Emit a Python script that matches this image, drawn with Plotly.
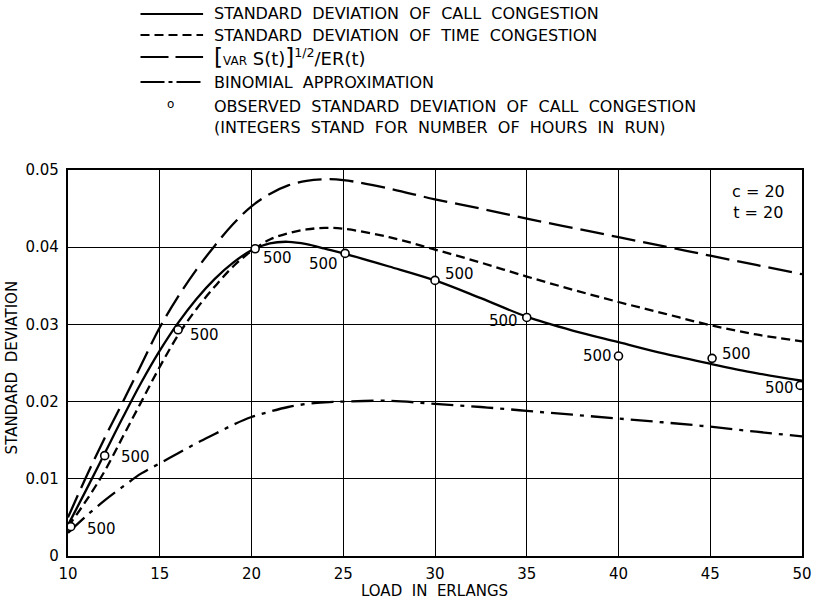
import plotly.graph_objects as go

# ---------------- data ----------------
x_curve = [10, 11, 12, 13, 14, 15, 16, 17, 18, 19, 20, 21, 22, 23, 24, 25,
           27.5, 30, 32.5, 35, 37.5, 40, 42.5, 45, 47.5, 50]
sd_call = [0.0040, 0.0086, 0.0133, 0.0180, 0.0225, 0.0266, 0.0302, 0.0333, 0.0359, 0.0380,
           0.0396, 0.0405, 0.0407, 0.0404, 0.0398, 0.0392,
           0.0375, 0.0357, 0.0334, 0.0310, 0.0292, 0.0277, 0.0262, 0.0249, 0.0237, 0.0227]
sd_time = [0.0038, 0.0072, 0.0110, 0.0155, 0.0200, 0.0245, 0.0286, 0.0320, 0.0349, 0.0375,
           0.0395, 0.0410, 0.0418, 0.0423, 0.0425, 0.0424,
           0.0413, 0.0397, 0.0380, 0.0362, 0.0345, 0.0329, 0.0314, 0.0299, 0.0287, 0.0278]
var_ratio = [0.0050, 0.0103, 0.0153, 0.0200, 0.0248, 0.0296, 0.0336, 0.0371, 0.0402, 0.0430,
             0.0453, 0.0469, 0.0480, 0.0486, 0.0488, 0.0487,
             0.0476, 0.0462, 0.0450, 0.0437, 0.0425, 0.0413, 0.0401, 0.0389, 0.0377, 0.0365]
binomial = [0.0030, 0.0052, 0.0072, 0.0090, 0.0107, 0.0120, 0.0133, 0.0146, 0.0158, 0.0170,
            0.0180, 0.0187, 0.0193, 0.0197, 0.0199, 0.0200,
            0.0201, 0.0197, 0.0193, 0.0188, 0.0183, 0.0178, 0.0173, 0.01675, 0.0161, 0.0155]

obs_x = [10.15, 12.0, 16.0, 20.2, 25.1, 30.0, 35.0, 40.0, 45.1, 49.9]
obs_y = [0.0038, 0.0130, 0.0293, 0.0398, 0.0392, 0.0357, 0.0309, 0.0259, 0.0256, 0.0221]
obs_hours = [500, 500, 500, 500, 500, 500, 500, 500, 500, 500]

x_ticks = [10, 15, 20, 25, 30, 35, 40, 45, 50]
y_ticks = [0, 0.01, 0.02, 0.03, 0.04, 0.05]
y_ticktext = ["0", "0.01", "0.02", "0.03", "0.04", "0.05"]

legend_labels = [
    "STANDARD\u00a0 DEVIATION\u00a0 OF\u00a0 CALL\u00a0 CONGESTION",
    "STANDARD\u00a0 DEVIATION\u00a0 OF\u00a0 TIME\u00a0 CONGESTION",
    "<span style='font-size:23px'>[</span><span style='font-size:12px'>VAR</span> S(t)"
    "<span style='font-size:23px'>]</span><sup>1/2</sup>/ER(t)",
    "BINOMIAL\u00a0 APPROXIMATION",
    "OBSERVED\u00a0 STANDARD\u00a0 DEVIATION\u00a0 OF\u00a0 CALL\u00a0 CONGESTION<br>"
    "(INTEGERS\u00a0 STAND\u00a0 FOR\u00a0 NUMBER\u00a0 OF\u00a0 HOURS\u00a0 IN\u00a0 RUN)",
]
param_text = "c = 20<br>t = 20"

# ---------------- styling / layout helpers ----------------
FONT = "DejaVu Sans"
W, H = 824, 601
L, R, T, B = 68, 807, 170, 556


def pxx(p):
    return (p - L) / (R - L)


def pxy(p):
    return (B - p) / (B - T)


LW = 2.3
DASH_SHORT = "9px,5px"
DASH_LONG = "24px,8px"
DASH_DOT = "22px,7px,4px,7px"

fig = go.Figure()
common = dict(mode="lines", line_shape="spline", showlegend=False, hoverinfo="skip")
fig.add_trace(go.Scatter(x=x_curve, y=var_ratio, line=dict(color="black", width=LW, dash=DASH_LONG), **common))
fig.add_trace(go.Scatter(x=x_curve, y=sd_time, line=dict(color="black", width=LW, dash=DASH_SHORT), **common))
fig.add_trace(go.Scatter(x=x_curve, y=sd_call, line=dict(color="black", width=LW), **common))
fig.add_trace(go.Scatter(x=x_curve, y=binomial, line=dict(color="black", width=LW, dash=DASH_DOT), **common))
fig.add_trace(go.Scatter(
    x=obs_x, y=obs_y, mode="markers", showlegend=False, hoverinfo="skip",
    marker=dict(symbol="circle", size=8, color="white", line=dict(color="black", width=1.6)),
))

# labels for observed points: (anchor, dx, dy) in pixels
label_offsets = [
    ("left", 14, 2), ("left", 14, 1), ("left", 10, 5), ("left", 6, 9), ("right", -5, 11),
    ("left", 8, -6), ("right", -7, 4), ("right", -5, 0), ("left", 8, -4), ("right", -4, 3),
]
annotations = []
for xv, yv, hv, (anc, dx, dy) in zip(obs_x, obs_y, obs_hours, label_offsets):
    annotations.append(dict(
        x=xv, y=yv, xref="x", yref="y", text=str(hv), showarrow=False,
        xanchor=anc, yanchor="middle", xshift=dx, yshift=-dy,
        font=dict(family=FONT, size=15, color="black"),
    ))

# legend (drawn above the plot)
row_y = [14, 35, 57, 82, 104]
dashes = ["solid", DASH_SHORT, "28px,7px", "24px,4px,4px,4px"]
shapes = []
for ry, d in zip(row_y[:4], dashes):
    shapes.append(dict(type="line", xref="paper", yref="paper",
                       x0=pxx(141), x1=pxx(204), y0=pxy(ry), y1=pxy(ry),
                       line=dict(color="black", width=2.2, dash=d)))
for i, (ry, txt) in enumerate(zip(row_y, legend_labels)):
    annotations.append(dict(
        x=pxx(213), y=pxy(ry), xref="paper", yref="paper", text=txt, showarrow=False,
        xanchor="left", yanchor="top" if i == 4 else "middle", yshift=9 if i == 4 else 0,
        align="left", font=dict(family=FONT, size=16 if i != 2 else 18, color="black"),
    ))
annotations.append(dict(
    x=pxx(171), y=pxy(104), xref="paper", yref="paper", text="o", showarrow=False,
    xanchor="center", yanchor="middle", font=dict(family=FONT, size=12, color="black"),
))

# parameters box text
annotations.append(dict(
    x=pxx(763), y=pxy(202), xref="paper", yref="paper", text=param_text, showarrow=False,
    xanchor="center", yanchor="middle", align="center",
    font=dict(family=FONT, size=16, color="black"),
))

# axis titles
annotations.append(dict(
    x=pxx(437), y=pxy(591), xref="paper", yref="paper", text="LOAD\u00a0 IN\u00a0 ERLANGS",
    showarrow=False, xanchor="center", yanchor="middle",
    font=dict(family=FONT, size=15, color="black"),
))
annotations.append(dict(
    x=pxx(12), y=pxy(368), xref="paper", yref="paper", text="STANDARD\u00a0 DEVIATION",
    showarrow=False, xanchor="center", yanchor="middle", textangle=-90,
    font=dict(family=FONT, size=15, color="black"),
))

fig.update_layout(
    width=W, height=H,
    margin=dict(l=L, r=W - R, t=T, b=H - B),
    paper_bgcolor="white", plot_bgcolor="white",
    font=dict(family=FONT, size=15, color="black"),
    shapes=shapes, annotations=annotations,
)
fig.update_xaxes(
    range=[10, 50], tickvals=x_ticks, ticktext=[str(v) for v in x_ticks],
    showgrid=True, gridcolor="black", gridwidth=1.4, zeroline=False,
    showline=True, linecolor="black", linewidth=2.4, mirror=True,
    ticks="", ticklabelstandoff=3, tickfont=dict(family=FONT, size=15, color="black"),
)
fig.update_yaxes(
    range=[0, 0.05], tickvals=y_ticks, ticktext=y_ticktext,
    showgrid=True, gridcolor="black", gridwidth=1.4, zeroline=False,
    showline=True, linecolor="black", linewidth=2.4, mirror=True,
    ticks="", ticklabelstandoff=4, tickfont=dict(family=FONT, size=15, color="black"),
)

fig.write_html("out.html", config={"displayModeBar": False},
               post_script="document.body.style.margin='0px';")
